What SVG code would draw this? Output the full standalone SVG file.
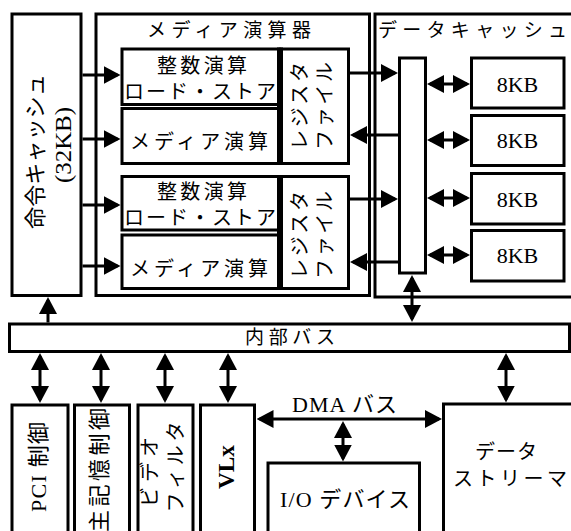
<svg xmlns="http://www.w3.org/2000/svg" width="571" height="531" viewBox="0 0 571 531">
<defs>
<style>
.box{fill:#fff;stroke:#000;stroke-width:3}
.ln{fill:none;stroke:#000;stroke-width:3}
.t{font-family:"Liberation Serif","Noto Sans CJK JP",serif;font-size:20px;fill:#000}
.c{text-anchor:middle}
.r{text-anchor:middle;dominant-baseline:central}
.b{font-weight:bold}
.s19{font-size:19px}
.s22{font-size:22px}
.s24{font-size:24px}
</style>
<marker id="ah" viewBox="0 0 17 18" markerWidth="17" markerHeight="18" refX="14" refY="9" orient="auto-start-reverse" markerUnits="userSpaceOnUse"><path d="M0,0 L17,9 L0,18 z" fill="#000"/></marker>
</defs>
<rect width="571" height="531" fill="#fff"/>

<g id="icache">
<rect class="box" x="12" y="14" width="69" height="281.5"/>
<text class="t r s22" transform="translate(35,151.5) rotate(-90)" textLength="155" lengthAdjust="spacing">命令キャッシュ</text>
<text class="t r s24" transform="translate(63,145) rotate(-90)" textLength="76" lengthAdjust="spacingAndGlyphs">(32KB)</text>
</g>

<g id="media">
<rect class="box" x="96" y="14" width="273.5" height="281.5"/>
<text class="t s19" x="147" y="36.5" textLength="164" lengthAdjust="spacing">メディア演算器</text>
</g>

<g id="int1">
<rect class="box" x="122" y="49" width="157" height="55.5"/>
<text class="t c" x="202" y="73" textLength="90" lengthAdjust="spacing">整数演算</text>
<text class="t c" x="200" y="98.5" textLength="152" lengthAdjust="spacing">ロード・ストア</text>
</g>
<g id="media1">
<rect class="box" x="122" y="108.5" width="157" height="55"/>
<text class="t c" x="199" y="148.5" textLength="138" lengthAdjust="spacing">メディア演算</text>
</g>
<g id="int2">
<rect class="box" x="122" y="176.5" width="157" height="53.5"/>
<text class="t c" x="202" y="199" textLength="90" lengthAdjust="spacing">整数演算</text>
<text class="t c" x="200" y="225" textLength="152" lengthAdjust="spacing">ロード・ストア</text>
</g>
<g id="media2">
<rect class="box" x="122" y="235" width="157" height="53.5"/>
<text class="t c" x="199" y="275.5" textLength="138" lengthAdjust="spacing">メディア演算</text>
</g>

<g id="reg1">
<rect class="box" x="281" y="49" width="67.5" height="114.5"/>
<line x1="280" y1="47.5" x2="280" y2="165" stroke="#000" stroke-width="6"/>
<text class="t r" transform="translate(300,106) rotate(-90)" textLength="88" lengthAdjust="spacing">レジスタ</text>
<text class="t r" transform="translate(325,106) rotate(-90)" textLength="88" lengthAdjust="spacing">ファイル</text>
</g>
<g id="reg2">
<rect class="box" x="281" y="176.5" width="67.5" height="112"/>
<line x1="280" y1="175" x2="280" y2="290" stroke="#000" stroke-width="6"/>
<text class="t r" transform="translate(300,235) rotate(-90)" textLength="88" lengthAdjust="spacing">レジスタ</text>
<text class="t r" transform="translate(325,235) rotate(-90)" textLength="88" lengthAdjust="spacing">ファイル</text>
</g>

<g id="dcache">
<rect class="box" x="375" y="14" width="300" height="283"/>
<text class="t s19" x="378" y="36.5" textLength="189" lengthAdjust="spacing">データキャッシュ</text>
</g>
<g id="dbar">
<rect class="box" x="399.5" y="58" width="26" height="215"/>
</g>
<g id="kb1"><rect class="box" x="471.5" y="58" width="92.5" height="50"/><text class="t c s22" x="517.5" y="91.5">8KB</text></g>
<g id="kb2"><rect class="box" x="471.5" y="115.5" width="92.5" height="50"/><text class="t c s22" x="517.5" y="148">8KB</text></g>
<g id="kb3"><rect class="box" x="471.5" y="173.5" width="92.5" height="50.5"/><text class="t c s22" x="517.5" y="206.5">8KB</text></g>
<g id="kb4"><rect class="box" x="471.5" y="230.5" width="92.5" height="50.5"/><text class="t c s22" x="517.5" y="262.5">8KB</text></g>

<g id="bus">
<rect class="box" x="9.5" y="324" width="560" height="27.5"/>
<text class="t c s19" x="290" y="344" textLength="90" lengthAdjust="spacing">内部バス</text>
</g>

<g id="pci">
<rect class="box" x="12" y="405" width="56" height="140"/>
<text class="t r s22" transform="translate(38,467) rotate(-90)" textLength="90" lengthAdjust="spacing">PCI 制御</text>
</g>
<g id="mem">
<rect class="box" x="74.5" y="405" width="55" height="140"/>
<text class="t r s22" transform="translate(99,470) rotate(-90)" textLength="124" lengthAdjust="spacing">主記憶制御</text>
</g>
<g id="video">
<rect class="box" x="138" y="405" width="55" height="140"/>
<text class="t r" transform="translate(150,472) rotate(-90)" textLength="70" lengthAdjust="spacing">ビデオ</text>
<text class="t r" transform="translate(176,467) rotate(-90)" textLength="91" lengthAdjust="spacing">フィルタ</text>
</g>
<g id="vlx">
<rect class="box" x="200.5" y="405" width="54" height="140"/>
<text class="t r b s24" transform="translate(226,467) rotate(-90)" textLength="44" lengthAdjust="spacingAndGlyphs">VLx</text>
</g>
<g id="io">
<rect class="box" x="268" y="463" width="151.5" height="100"/>
<text class="t c s22" x="345" y="507" textLength="130" lengthAdjust="spacing">I/O デバイス</text>
</g>
<g id="streamer">
<rect class="box" x="443.5" y="404" width="200" height="200"/>
<text class="t c" x="506" y="459" textLength="62" lengthAdjust="spacing">データ</text>
<text class="t c" x="510" y="486" textLength="114" lengthAdjust="spacing">ストリーマ</text>
</g>
<g id="dmalabel">
<text class="t s22" x="292" y="412" textLength="105" lengthAdjust="spacing">DMA バス</text>
</g>

<g id="connectors">
<line class="ln" x1="82.5" y1="75" x2="117.5" y2="75" marker-end="url(#ah)"/>
<line class="ln" x1="82.5" y1="139" x2="117.5" y2="139" marker-end="url(#ah)"/>
<line class="ln" x1="82.5" y1="205" x2="117.5" y2="205" marker-end="url(#ah)"/>
<line class="ln" x1="82.5" y1="266" x2="117.5" y2="266" marker-end="url(#ah)"/>
<line class="ln" x1="350" y1="73" x2="395" y2="73" marker-end="url(#ah)"/>
<line class="ln" x1="350" y1="199" x2="395" y2="199" marker-end="url(#ah)"/>
<line class="ln" x1="398" y1="135" x2="353" y2="135" marker-end="url(#ah)"/>
<line class="ln" x1="398" y1="262" x2="353" y2="262" marker-end="url(#ah)"/>
<line class="ln" x1="430" y1="84" x2="467" y2="84" marker-start="url(#ah)" marker-end="url(#ah)"/>
<line class="ln" x1="430" y1="140" x2="467" y2="140" marker-start="url(#ah)" marker-end="url(#ah)"/>
<line class="ln" x1="430" y1="198" x2="467" y2="198" marker-start="url(#ah)" marker-end="url(#ah)"/>
<line class="ln" x1="430" y1="255" x2="467" y2="255" marker-start="url(#ah)" marker-end="url(#ah)"/>
<line class="ln" x1="412" y1="278" x2="412" y2="319" marker-start="url(#ah)" marker-end="url(#ah)"/>
<line class="ln" x1="48" y1="322.5" x2="48" y2="300" marker-end="url(#ah)"/>
<line class="ln" x1="40" y1="356" x2="40" y2="400" marker-start="url(#ah)" marker-end="url(#ah)"/>
<line class="ln" x1="101" y1="356" x2="101" y2="400" marker-start="url(#ah)" marker-end="url(#ah)"/>
<line class="ln" x1="165" y1="356" x2="165" y2="400" marker-start="url(#ah)" marker-end="url(#ah)"/>
<line class="ln" x1="228" y1="356" x2="228" y2="400" marker-start="url(#ah)" marker-end="url(#ah)"/>
<line class="ln" x1="506" y1="356" x2="506" y2="399.5" marker-start="url(#ah)" marker-end="url(#ah)"/>
<line class="ln" x1="259.5" y1="419" x2="439" y2="419" marker-start="url(#ah)" marker-end="url(#ah)"/>
<line class="ln" x1="343" y1="424" x2="343" y2="458.5" marker-start="url(#ah)" marker-end="url(#ah)"/>
</g>
</svg>
